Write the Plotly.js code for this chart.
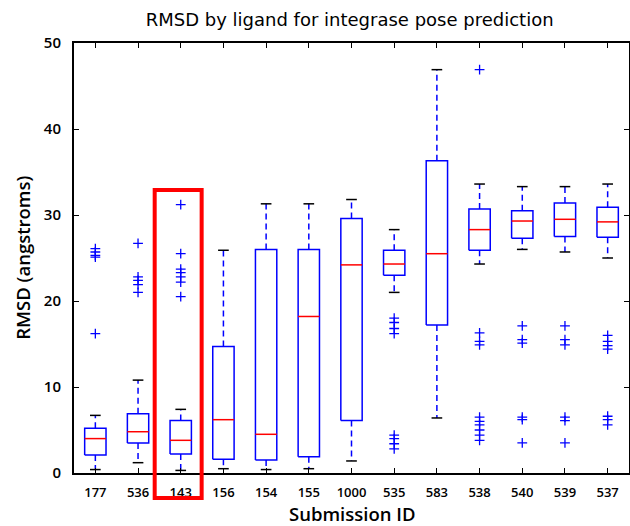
<!DOCTYPE html>
<html>
<head>
<meta charset="utf-8">
<script src="https://cdn.plot.ly/plotly-3.0.1.min.js"></script>
<style>
html,body{margin:0;padding:0;background:#fff;}
#chart{width:630px;height:526px;}
</style>
</head>
<body>
<div id="chart"></div>
<script>
const categories = ["177","536","143","156","154","155","1000","535","583","538","540","539","537"];
const q1 =          [2.1, 3.5, 2.2, 1.6, 1.5, 1.9, 6.1, 23.0, 17.2, 25.9, 27.3, 27.5, 27.4];
const median =      [4.0, 4.8, 3.8, 6.2, 4.5, 18.2, 24.2, 24.3, 25.5, 28.3, 29.3, 29.5, 29.2];
const q3 =          [5.2, 6.9, 6.1, 14.7, 26.0, 26.0, 29.6, 25.9, 36.3, 30.7, 30.5, 31.4, 30.9];
const lowerWhisker =[0.4, 1.2, 0.3, 0.5, 0.4, 0.5, 1.4, 21.0, 6.4, 24.3, 26.0, 25.7, 25.0];
const upperWhisker =[6.7, 10.8, 7.4, 25.9, 31.3, 31.3, 31.8, 28.3, 46.9, 33.6, 33.3, 33.3, 33.6];
const outliers = [
  [26.1, 25.7, 25.3, 25.1, 16.2],
  [26.7, 22.8, 22.4, 21.9, 21.0],
  [31.2, 25.5, 23.7, 23.3, 22.8, 22.2, 20.5],
  [],
  [],
  [],
  [],
  [18.0, 17.5, 16.8, 16.2, 4.4, 4.0, 3.4, 2.8],
  [],
  [46.9, 16.3, 15.3, 14.9, 6.5, 6.0, 5.6, 5.0, 4.4, 3.8],
  [17.1, 15.5, 15.1, 6.5, 6.2, 3.5],
  [17.1, 15.5, 14.9, 6.5, 6.1, 3.5],
  [16.0, 15.3, 14.8, 14.4, 6.6, 6.2, 5.6]
];
const yTicks = [0, 10, 20, 30, 40, 50];
const xTitle = 'Submission ID';
const yTitle = 'RMSD (angstroms)';
// highlight frame around submission 143 (x in category units, y as fraction of plot height)
const highlight = {x0: 2.39, x1: 3.49, y0: -0.058, y1: 0.658};

const halfBox = 0.25, halfCap = 0.125;
const boxX = [], boxY = [], medX = [], medY = [], whX = [], whY = [], capX = [], capY = [], outX = [], outY = [];
categories.forEach((c, i) => {
  const p = i + 1;
  boxX.push(p - halfBox, p + halfBox, p + halfBox, p - halfBox, p - halfBox, null);
  boxY.push(q1[i], q1[i], q3[i], q3[i], q1[i], null);
  medX.push(p - halfBox, p + halfBox, null);
  medY.push(median[i], median[i], null);
  whX.push(p, p, null, p, p, null);
  whY.push(q3[i], upperWhisker[i], null, q1[i], lowerWhisker[i], null);
  capX.push(p - halfCap, p + halfCap, null, p - halfCap, p + halfCap, null);
  capY.push(upperWhisker[i], upperWhisker[i], null, lowerWhisker[i], lowerWhisker[i], null);
  outliers[i].forEach(v => { outX.push(p); outY.push(v); });
});

const traces = [
  {x: whX, y: whY, mode: 'lines', line: {color: '#0000ff', width: 1.5, dash: '6px,4px'}, hoverinfo: 'none'},
  {x: capX, y: capY, mode: 'lines', line: {color: '#000000', width: 1.5}, hoverinfo: 'none'},
  {x: boxX, y: boxY, mode: 'lines', line: {color: '#0000ff', width: 1.5}, hoverinfo: 'none'},
  {x: medX, y: medY, mode: 'lines', line: {color: '#ff0000', width: 1.5}, hoverinfo: 'none'},
  {x: outX, y: outY, mode: 'markers', marker: {symbol: 'cross-thin', size: 7, color: '#0000ff', line: {color: '#0000ff', width: 1.3}}, hoverinfo: 'none'}
];

const labelFont = 'Open Sans, DejaVu Sans, sans-serif';
const titleFont = {family: labelFont, size: 18.5, color: '#000', weight: 600};
const layout = {
  width: 630, height: 526,
  margin: {l: 74, r: 1, t: 43, b: 53},
  paper_bgcolor: '#fff', plot_bgcolor: '#fff',
  showlegend: false,
  font: {family: labelFont, color: '#000'},
  title: {text: 'RMSD by ligand for integrase pose prediction', font: {family: 'DejaVu Sans, sans-serif', size: 18, color: '#000'}, x: 0.555, xanchor: 'center', y: 0.962, yanchor: 'middle'},
  xaxis: {
    range: [0.5, 13.5],
    tickmode: 'array', tickvals: categories.map((c, i) => i + 1), ticktext: categories,
    ticks: 'inside', ticklen: 5, tickwidth: 1, tickcolor: '#000',
    showline: true, linecolor: '#000', linewidth: 2, mirror: 'ticks',
    showgrid: false, zeroline: false, ticklabelstandoff: 6,
    tickfont: {family: labelFont, size: 13, color: '#000', weight: 600}
  },
  yaxis: {
    range: [0, 50],
    tickmode: 'array', tickvals: yTicks, ticktext: yTicks.map(String),
    ticks: 'inside', ticklen: 5, tickwidth: 1, tickcolor: '#000',
    showline: true, linecolor: '#000', linewidth: 2, mirror: 'ticks',
    showgrid: false, zeroline: false, ticklabelstandoff: 8,
    tickfont: {family: labelFont, size: 15, color: '#000', weight: 600}
  },
  annotations: [
    {text: xTitle, xref: 'paper', yref: 'paper', x: 0.5, y: -0.094, xanchor: 'center', yanchor: 'middle', showarrow: false, font: titleFont},
    {text: yTitle, xref: 'paper', yref: 'paper', x: -0.094, y: 0.5, xanchor: 'center', yanchor: 'middle', textangle: -90, showarrow: false, font: titleFont}
  ],
  shapes: [
    {type: 'rect', xref: 'x', yref: 'paper', x0: highlight.x0, x1: highlight.x1, y0: highlight.y0, y1: highlight.y1,
     line: {color: '#ff0000', width: 4}, fillcolor: 'rgba(0,0,0,0)', layer: 'above'}
  ]
};

Plotly.newPlot('chart', traces, layout, {displayModeBar: false, staticPlot: true});
</script>
</body>
</html>
